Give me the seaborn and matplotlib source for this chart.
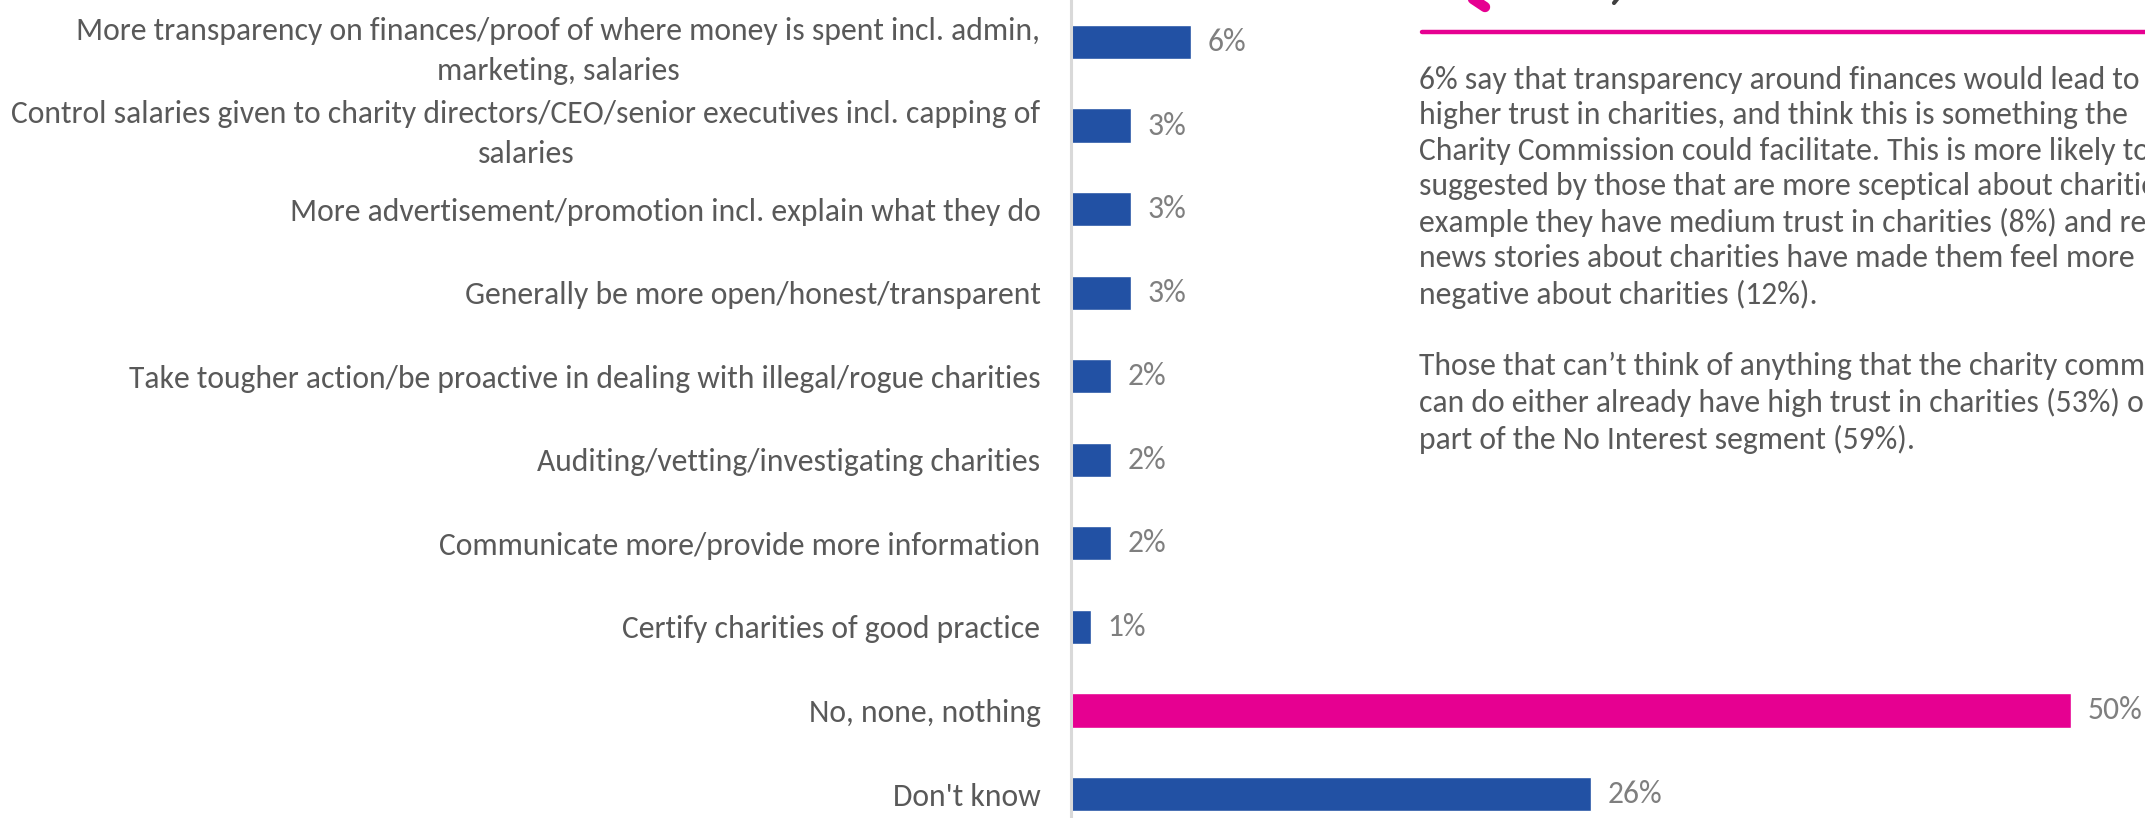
import matplotlib
matplotlib.use("Agg")
import matplotlib.pyplot as plt
from matplotlib.lines import Line2D
from matplotlib.font_manager import FontProperties, fontManager
import seaborn as sns
import pandas as pd

# Survey answers and shares of respondents (%)
categories = [
    "More transparency on finances/proof of where money is spent incl. admin,\nmarketing, salaries",
    "Control salaries given to charity directors/CEO/senior executives incl. capping of\nsalaries",
    "More advertisement/promotion incl. explain what they do",
    "Generally be more open/honest/transparent",
    "Take tougher action/be proactive in dealing with illegal/rogue charities",
    "Auditing/vetting/investigating charities",
    "Communicate more/provide more information",
    "Certify charities of good practice",
    "No, none, nothing",
    "Don't know",
]
values = [6, 3, 3, 3, 2, 2, 2, 1, 50, 26]
highlight = "No, none, nothing"

BLUE = "#2251A4"
PINK = "#E60091"
GREY_TEXT = "#595959"
LABEL_GREY = "#7F7F7F"

commentary = [
    "6% say that transparency around finances would lead to",
    "higher trust in charities, and think this is something the",
    "Charity Commission could facilitate. This is more likely to be",
    "suggested by those that are more sceptical about charities, for",
    "example they have medium trust in charities (8%) and recent",
    "news stories about charities have made them feel more",
    "negative about charities (12%).",
    "",
    "Those that can\u2019t think of anything that the charity commission",
    "can do either already have high trust in charities (53%) or are",
    "part of the No Interest segment (59%).",
]

sns.set_theme(style="white")


def pick_font():
    """Choose a narrow sans-serif face from what is installed."""
    entries = fontManager.ttflist
    names = {f.name for f in entries}
    for fam in ["Carlito", "Liberation Sans Narrow", "Roboto Condensed", "Open Sans Condensed"]:
        if fam in names:
            return fam, "normal"
    if any(f.name == "DejaVu Sans" and str(f.stretch) in ("condensed", "semi-condensed")
           for f in entries):
        return "DejaVu Sans", "condensed"
    for fam in ["Lato", "Roboto", "Open Sans"]:
        if fam in names:
            return fam, "normal"
    return "DejaVu Sans", "normal"


FAMILY, STRETCH = pick_font()
plt.rcParams["font.family"] = [FAMILY, "DejaVu Sans"]

W, H, DPI = 2145, 818, 100
fig = plt.figure(figsize=(W / DPI, H / DPI), dpi=DPI)

# size the type so a reference line spans the width the layout needs
renderer = fig.canvas.get_renderer()
probe = fig.text(0, 0, "More advertisement/promotion incl. explain what they do",
                 fontsize=20, fontstretch=STRETCH)
probe_w = probe.get_window_extent(renderer).width
probe.remove()
FS = 20 * 750.0 / probe_w


def fp(size=FS):
    return FontProperties(family=[FAMILY, "DejaVu Sans"], stretch=STRETCH, size=size)


# axes: spine at x=1071 px, 20 px per percentage point
left_px = 1071
ax = fig.add_axes([left_px / W, 0.0, (W - left_px) / W, 1.0])

df = pd.DataFrame({"reason": categories, "pct": values})
palette = {c: (PINK if c.startswith(highlight) else BLUE) for c in categories}
sns.barplot(data=df, y="reason", x="pct", hue="reason", palette=palette,
            legend=False, width=0.41, orient="h", ax=ax, saturation=1)

ax.set_xlim(0, (W - left_px) / 20.0)
ax.set_ylim(9.287, -0.503)
ax.set_xlabel("")
ax.set_ylabel("")
ax.set_xticks([])
for side in ["top", "right", "bottom"]:
    ax.spines[side].set_visible(False)
ax.spines["left"].set_color("#D9D9D9")
ax.spines["left"].set_linewidth(2.2)

ax.tick_params(axis="y", length=0, pad=22)
ax.set_yticks(range(len(categories)))
ax.set_yticklabels(categories, fontproperties=fp(), color=GREY_TEXT,
                   multialignment="center", linespacing=1.53)

for cont in ax.containers:
    ax.bar_label(cont, fmt="{:g}%", padding=12, fontproperties=fp(), color=LABEL_GREY)

# commentary panel
fig.add_artist(Line2D([1422 / W, 1.0], [1 - 32 / H, 1 - 32 / H], color=PINK,
                      linewidth=3.2, transform=fig.transFigure))
fig.add_artist(Line2D([1470 / W, 1485 / W], [1.0 + 3 / H, 1 - 7 / H], color=PINK,
                      linewidth=7.5, solid_capstyle="round", transform=fig.transFigure))
fig.add_artist(Line2D([1618 / W, 1614 / W], [1.0 + 2 / H, 1 - 3 / H], color="#404040",
                      linewidth=3, transform=fig.transFigure))

fig.text(1419 / W, 1 - 66 / H, "\n".join(commentary), ha="left", va="top",
         fontproperties=fp(), color=GREY_TEXT, linespacing=1.32)

fig.savefig("out.png", dpi=DPI)
